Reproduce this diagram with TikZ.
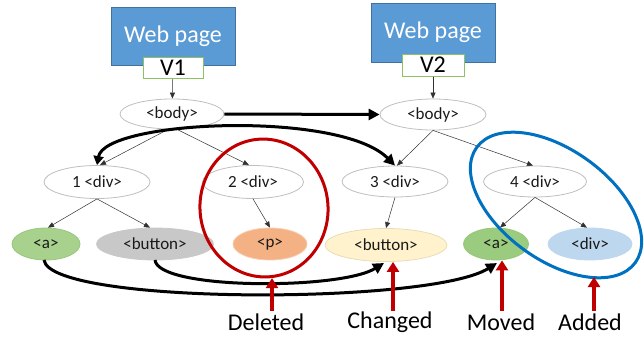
\documentclass[tikz,border=0pt]{standalone}
\usepackage{fontspec}
\setmainfont{Carlito}
\usetikzlibrary{shapes.geometric,arrows.meta}
\definecolor{wpblue}{HTML}{5B9BD5}
\definecolor{wpborder}{HTML}{41719C}
\definecolor{vgreen}{HTML}{8CC168}
\definecolor{elgray}{HTML}{BFBFBF}
\definecolor{agreen}{HTML}{A9D18E}
\definecolor{agreenb}{HTML}{97C77A}
\definecolor{agreen2}{HTML}{9ACB7E}
\definecolor{btngray}{HTML}{C8C8C8}
\definecolor{porange}{HTML}{F4B183}
\definecolor{porangeb}{HTML}{F8CBAD}
\definecolor{byellow}{HTML}{FFF2CC}
\definecolor{byellowb}{HTML}{E8DDB5}
\definecolor{dblue}{HTML}{BDD7EE}
\definecolor{redl}{HTML}{C00000}
\definecolor{bluel}{HTML}{0070C0}
\definecolor{txt}{HTML}{1A1A1A}
\tikzset{
  webbox/.style={draw=wpborder, line width=0.8pt, fill=wpblue, minimum width=124pt, minimum height=58pt, inner sep=0pt, text=white, font=\fontsize{24}{28}\selectfont},
  vbox/.style={draw=vgreen, line width=1pt, fill=white, minimum width=60pt, minimum height=21pt, inner sep=0pt, font=\fontsize{24}{28}\selectfont},
  tnode/.style={ellipse, draw=elgray, line width=0.8pt, fill=white, inner sep=0pt, text=txt, font=\fontsize{17}{19}\selectfont},
  tedge/.style={draw=txt!90, line width=0.5pt, -{Triangle[length=6pt,width=5pt]}},
  bigarrow/.style={line width=3pt, -{Triangle[length=11pt,width=11pt]}},
  redarrow/.style={draw=redl, line width=3.5pt, -{Triangle[length=10pt,width=12pt]}},
  lbl/.style={font=\fontsize{24}{28}\selectfont, inner sep=0pt},
  ring/.style={ellipse, line width=3pt, inner sep=0pt}
}
\begin{document}
\begin{tikzpicture}[x=1pt,y=-1pt]
\useasboundingbox (0,0) rectangle (644,337);
% web page boxes
\node[webbox] (web1) at (173,36) {\raisebox{3pt}{Web page}};
\node[webbox, minimum height=59pt] (web2) at (433,32.5) {\raisebox{3pt}{Web page}};
\node[vbox] (v1) at (173,68) {V1};
\node[vbox, minimum width=62pt, minimum height=22pt] (v2) at (433,65) {V2};
% tree nodes
\node[tnode, minimum width=104pt, minimum height=30pt] (body1) at (172,114) {<body>};
\node[tnode, minimum width=106pt, minimum height=31pt] (body2) at (433,114.5) {<body>};
\node[tnode, minimum width=106pt, minimum height=33pt] (div1) at (97,182) {1 <div>};
\node[tnode, minimum width=101pt, minimum height=33pt] (div2) at (253,182) {2 <div>};
\node[tnode, minimum width=106pt, minimum height=31pt] (div3) at (395,181.5) {3 <div>};
\node[tnode, minimum width=103pt, minimum height=31pt] (div4) at (535,181.5) {4 <div>};
\node[tnode, draw=agreenb, fill=agreen, minimum width=68pt, minimum height=32pt] (a1) at (46,244) {<a>};
\node[tnode, draw=btngray, fill=btngray, minimum width=117pt, minimum height=32pt] (btn1) at (155,244) {<button>};
\node[tnode, draw=porangeb, fill=porange, minimum width=74pt, minimum height=32pt] (p) at (270,244) {<p>};
\node[tnode, draw=byellowb, fill=byellow, minimum width=122pt, minimum height=33pt] (btn2) at (386,245) {<button>};
\node[tnode, draw=agreenb, fill=agreen2, minimum width=65pt, minimum height=32pt] (a2) at (496,244) {<a>};
\node[tnode, draw=dblue, fill=dblue, minimum width=84pt, minimum height=32pt] (div5) at (590,244) {<div>};
% tree edges
\draw[tedge] (v1) -- (body1);
\draw[tedge] (v2) -- (body2);
\draw[tedge] ([xshift=-4pt]body1.south) -- ([xshift=3pt]div1.north);
\draw[tedge] ([xshift=5pt]body1.south) -- ([xshift=-4pt]div2.north);
\draw[tedge] (div1.south) -- ([xshift=2pt]a1.north);
\draw[tedge] (div1.south) -- ([xshift=-5pt]btn1.north);
\draw[tedge] (div2.south) -- (p.north);
\draw[tedge] (body2.south) -- ([xshift=2pt]div3.north);
\draw[tedge] (body2.south) -- ([xshift=-2pt]div4.north);
\draw[tedge] (div3.south) -- (btn2.north);
\draw[tedge] (div4.south) -- ([xshift=4pt]a2.north);
\draw[tedge] (div4.south) -- ([xshift=-3pt]div5.north);
% thick matching arrows
\draw[bigarrow] (body1.east) -- (body2.west);
\draw[bigarrow, {Triangle[length=9pt,width=10pt]}-{Triangle[length=11pt,width=11pt]}] (div1.north) .. controls (105,120) and (340,110) .. (div3.north);
\coordinate (a1s) at (44,260);
\coordinate (a2t) at (497,263);
\coordinate (b1s) at (155,260);
\coordinate (b2t) at (384,263);
\draw[bigarrow] (a1s) .. controls (50,305) and (430,305) .. (a2t);
\draw[bigarrow] (b1s) .. controls (158,290) and (340,290) .. (b2t);
% rings
\node[ring, draw=redl, minimum width=128pt, minimum height=138pt, rotate=6] (redring) at (264,208) {};
\node[ring, draw=bluel, minimum width=196pt, minimum height=110pt, rotate=-36] (bluering) at (556,205) {};
% labels
\node[lbl] (ldel) at (266,322) {Deleted};
\node[lbl] (lchg) at (390,322) {Changed};
\node[lbl] (lmov) at (501,322) {Moved};
\node[lbl] (ladd) at (590,322) {Added};
\coordinate (dbase) at (272,311);
\coordinate (cbase) at (393,311);
\coordinate (mbase) at (502,311);
\coordinate (abase) at (594,311);
\coordinate (atip) at (594,277);
\draw[redarrow] (dbase) -- (dbase |- redring.south);
\draw[redarrow] (cbase) -- (cbase |- btn2.south);
\draw[redarrow] (mbase) -- (mbase |- a2.south);
\draw[redarrow] (abase) -- (atip);
\end{tikzpicture}
\end{document}
